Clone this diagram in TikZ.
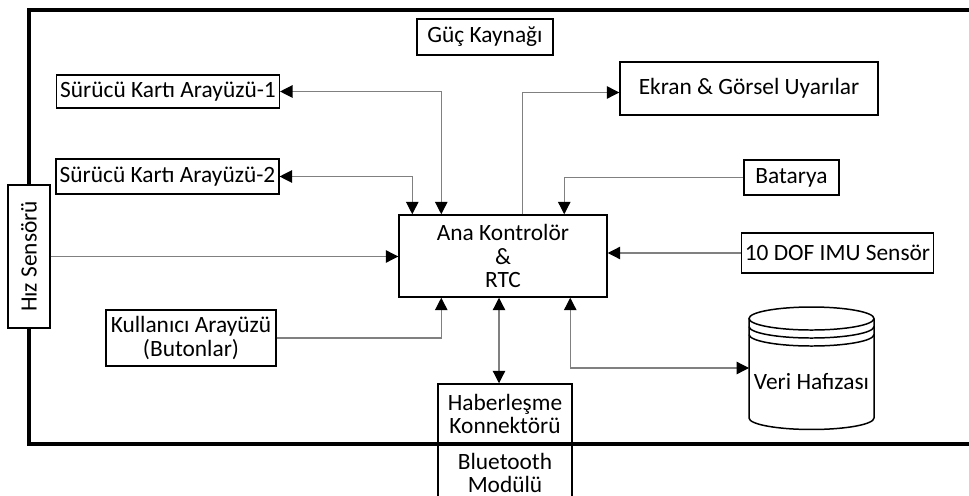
\documentclass[tikz,border=0pt]{standalone}
\usepackage{fontspec}
\setmainfont{Carlito}
\usetikzlibrary{positioning, arrows.meta}

\begin{document}
\begin{tikzpicture}[
        x=0.02cm, y=0.02cm,
        every node/.style={font=\fontsize{13.3}{13.4}\selectfont, align=center, inner sep=2pt},
        box/.style={draw, fill=white, line width=0.85pt},
        link/.style={draw=black!50, line width=0.7pt, -{Triangle[length=0.25cm, width=0.25cm, color=black]}},
        both/.style={link, {Triangle[length=0.25cm, width=0.25cm, color=black]}-{Triangle[length=0.25cm, width=0.25cm, color=black]}}
    ]
    \useasboundingbox (0,0) rectangle (969,-496);

    % Outer frame of the board
    \draw[line width=2.2pt] (990,-10) -- (29,-10) -- (29,-444) -- (990,-444);

    % Blocks
    \node[box, minimum width=2.72cm, minimum height=0.72cm] (guc) at (485,-37) {Güç Kaynağı};
    \node[box, minimum width=4.44cm, minimum height=0.66cm] (ska1) at (168,-91.5) {Sürücü Kartı Arayüzü-1};
    \node[box, minimum width=4.42cm, minimum height=0.7cm] (ska2) at (167.5,-176.5) {Sürücü Kartı Arayüzü-2};
    \node[box, minimum width=0.84cm, minimum height=2.86cm] (hiz) at (29,-256.5) {\rotatebox{90}{Hız Sensörü}};
    \node[box, minimum width=4.16cm, minimum height=1.64cm] (ana) at (503,-256) {Ana Kontrolör\\\&\\RTC};
    \node[box, minimum width=5.16cm, minimum height=1.06cm] (ekran) at (749,-88.5) {Ekran \& Görsel Uyarılar};
    \node[box, minimum width=1.9cm, minimum height=0.7cm] (bat) at (791.5,-177.5) {Batarya};
    \node[box, minimum width=3.74cm, minimum height=0.8cm] (imu) at (837.5,-253) {10 DOF IMU Sensör};
    \node[box, minimum width=3.4cm, minimum height=1.12cm] (kull) at (191,-338) {Kullanıcı Arayüzü\\(Butonlar)};
    \node[box, fill=none, minimum width=2.68cm, minimum height=1.2cm] (habr) at (505,-414) {Haberleşme\\Konnektörü};
    \node[box, fill=none, minimum width=2.68cm, minimum height=1.1cm, below=0pt of habr] (blue) {Bluetooth\\Modülü};

    % Data storage (cylinder)
    \node[minimum width=2.5cm, inner sep=0pt, outer sep=0pt] (veri) at (811.5,-382) {Veri Hafızası};
    \draw[line width=0.85pt] ([yshift=1.27cm]veri.center) ellipse [x radius=1.25cm, y radius=0.23cm];
    \draw[line width=0.85pt] ([yshift=1.27cm]veri.west) -- ([yshift=-0.72cm]veri.west)
        arc [start angle=180, end angle=360, x radius=1.25cm, y radius=0.23cm] -- ([yshift=1.27cm]veri.east);
    \foreach \dy in {1.11, 0.95}
        \draw[line width=0.85pt] ([yshift=\dy cm]veri.west) arc [start angle=180, end angle=360, x radius=1.25cm, y radius=0.23cm];

    % Connections above the controller
    \draw[both] (ska1.east) -| ([xshift=0.86cm]ana.north west);
    \draw[both] (ska2.east) -| ([xshift=0.28cm]ana.north west);
    \draw[link] ([xshift=2.48cm]ana.north west) |- ([yshift=-0.08cm]ekran.west);
    \draw[link] (bat.west) -| ([xshift=3.32cm]ana.north west);

    % Side inputs
    \draw[link] (imu.west) -- (imu.west -| ana.east);
    \draw[link] (hiz.east) -- (hiz.east -| ana.west);

    % Connections below the controller
    \draw[link] (kull.east) -| ([xshift=0.86cm]ana.south west);
    \draw[both] ([xshift=-0.12cm]habr.north) -- ([xshift=-0.12cm]habr.north |- ana.south);
    \draw[both] ([xshift=3.44cm]ana.south west) |- ([yshift=0.28cm]veri.west);

\end{tikzpicture}
\end{document}
